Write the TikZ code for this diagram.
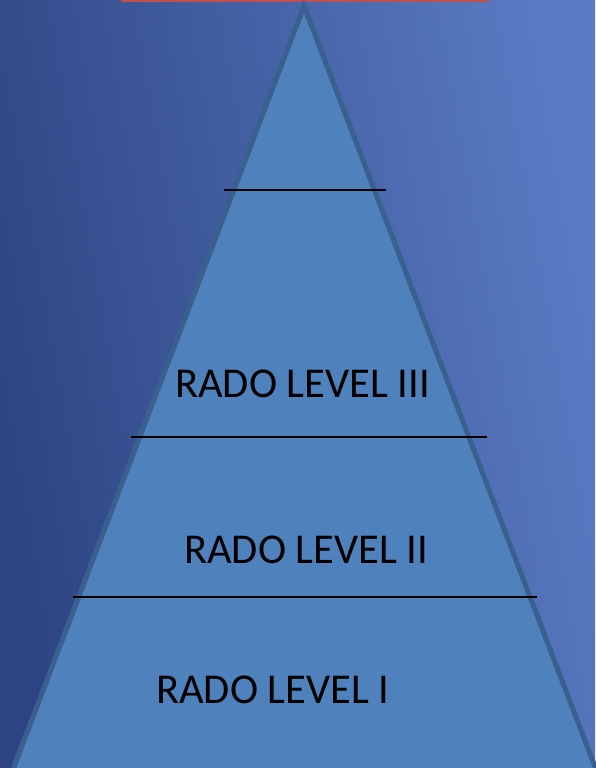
\documentclass[tikz,border=0pt]{standalone}
\usepackage{fontspec}
\setmainfont{Carlito}
\definecolor{bgL}{HTML}{2D4482}
\definecolor{bgR}{HTML}{5A7BC4}
\definecolor{pyrfill}{HTML}{4F81BD}
\definecolor{pyredge}{HTML}{3A6090}
\definecolor{topred}{HTML}{C0504D}
\tikzset{
  level/.style={draw=black, line width=1.5pt},
  lbl/.style={anchor=base west, inner sep=0pt, font=\fontsize{42.5}{50}\selectfont, text=black}
}
\begin{document}
\begin{tikzpicture}[x=1pt,y=-1pt]
\useasboundingbox (0,0) rectangle (595,768);
\shade[left color=bgL, right color=bgR, shading angle=100] (0,0) rectangle (595,768);
\fill[topred] (121,0) rectangle (489,2.5);
\coordinate (apex) at (304,6);
\coordinate (bl) at (12,772);
\coordinate (br) at (597,772);
\draw[fill=pyrfill, draw=pyredge, line width=5pt, line join=miter] (apex) -- (bl) -- (br) -- cycle;
\coordinate (a1) at (224,190); \coordinate (b1) at (386,190);
\coordinate (a2) at (131,437); \coordinate (b2) at (487,437);
\coordinate (a3) at (73,597);  \coordinate (b3) at (537,597);
\draw[level] (a1) -- (b1);
\draw[level] (a2) -- (b2);
\draw[level] (a3) -- (b3);
\node[lbl] (l3) at (175,397) {RADO LEVEL III};
\node[lbl] (l2) at (184,563) {RADO LEVEL II};
\node[lbl] (l1) at (156,703) {RADO LEVEL I};
\end{tikzpicture}
\end{document}
